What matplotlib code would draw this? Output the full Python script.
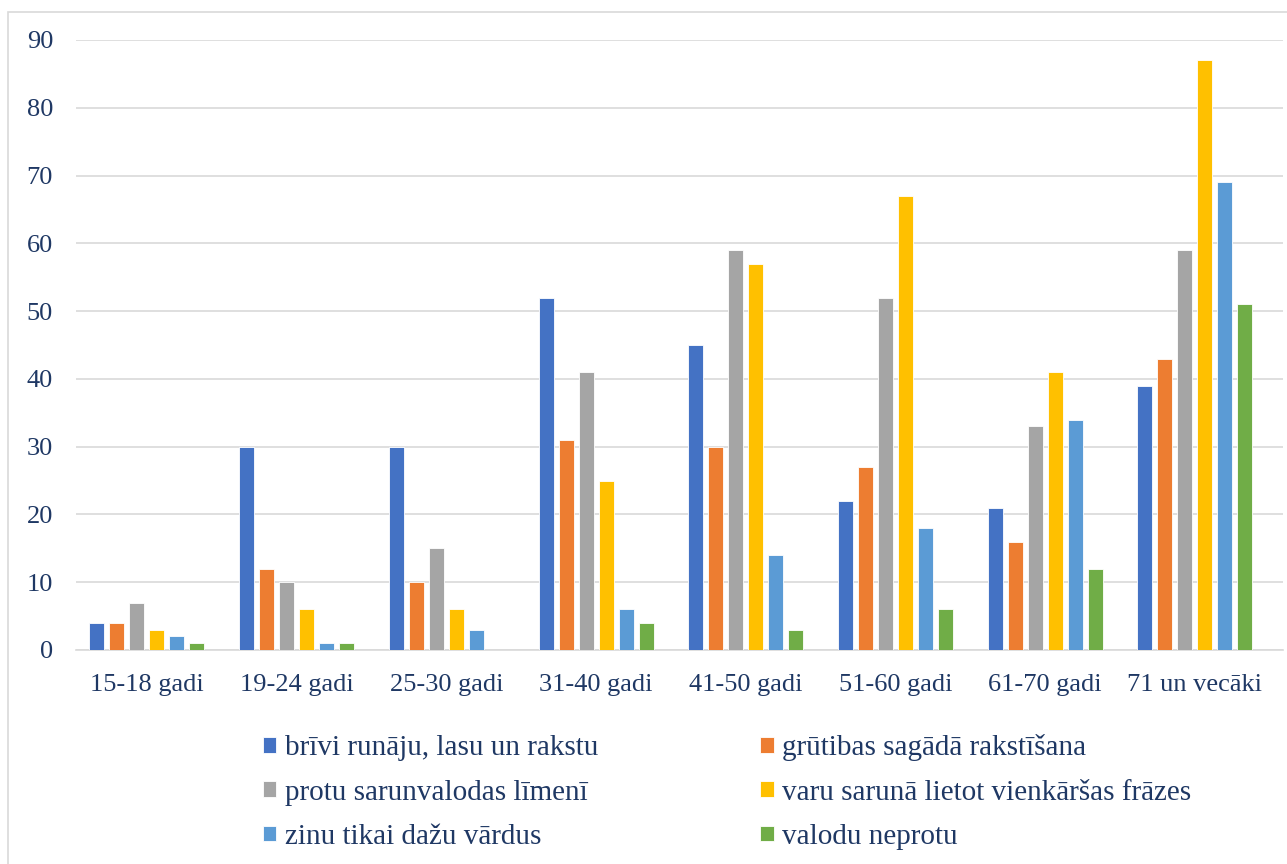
import matplotlib
matplotlib.use("Agg")
import matplotlib.pyplot as plt
import numpy as np
from matplotlib.patches import Rectangle

categories = ["15-18 gadi", "19-24 gadi", "25-30 gadi", "31-40 gadi",
              "41-50 gadi", "51-60 gadi", "61-70 gadi", "71 un vecāki"]
series_names = ["brīvi runāju, lasu un rakstu", "grūtibas sagādā rakstīšana",
                "protu sarunvalodas līmenī", "varu sarunā lietot vienkāršas frāzes",
                "zinu tikai dažu vārdus", "valodu neprotu"]
brivi = [4, 30, 30, 52, 45, 22, 21, 39]
grutibas = [4, 12, 10, 31, 30, 27, 16, 43]
protu = [7, 10, 15, 41, 59, 52, 33, 59]
varu = [3, 6, 6, 25, 57, 67, 41, 87]
zinu = [2, 1, 3, 6, 14, 18, 34, 69]
neprotu = [1, 1, 0, 4, 3, 6, 12, 51]
series = [brivi, grutibas, protu, varu, zinu, neprotu]
colors = ["#4472C4", "#ED7D31", "#A5A5A5", "#FFC000", "#5B9BD5", "#70AD47"]
yticks = [0, 10, 20, 30, 40, 50, 60, 70, 80, 90]

W, H = 1287, 864
fig = plt.figure(figsize=(W / 100, H / 100), dpi=100)
plt.rcParams['font.family'] = ['Liberation Serif', 'DejaVu Serif']
txt = "#1F3864"

fig.patches.append(Rectangle((8 / W, -0.2), 1.5, 1.2 - 12 / H, transform=fig.transFigure,
                             fill=False, edgecolor="#D9D9D9", linewidth=1.2))

left, right, top, bottom = 76, 1283, 40, 650
ax = fig.add_axes([left / W, 1 - bottom / H, (right - left) / W, (bottom - top) / H])

x = np.arange(len(categories))
step = 0.1336
width = 0.1
handles = []
for i, (vals, c, name) in enumerate(zip(series, colors, series_names)):
    b = ax.bar(x + (i - 2.5) * step, vals, width, color=c, label=name,
               edgecolor="white", linewidth=0.6, zorder=3)
    handles.append(b)

ax.set_ylim(0, 90)
ax.set_xlim(-0.474, 7.589)
ax.set_yticks(yticks)
ax.set_xticks(x)
ax.set_xticklabels(categories)
ax.yaxis.grid(True, color="#D9D9D9", linewidth=1.2, zorder=0)
for s in ["top", "right", "left"]:
    ax.spines[s].set_visible(False)
ax.spines["bottom"].set_color("#D9D9D9")
ax.spines["bottom"].set_linewidth(1.2)
ax.tick_params(axis="both", length=0, labelsize=19, colors=txt)
ax.tick_params(axis="y", pad=16.5)
ax.tick_params(axis="x", pad=17)

order = [0, 2, 4, 1, 3, 5]
leg = fig.legend([handles[i] for i in order], [series_names[i] for i in order],
                 loc="upper left", bbox_to_anchor=(237 / W, 1 - 708 / H), ncol=2,
                 frameon=False, fontsize=21, labelcolor=txt,
                 handlelength=0.45, handleheight=0.45, handletextpad=0.3,
                 columnspacing=5.55, labelspacing=0.63)

fig.savefig("out.png", dpi=100)
